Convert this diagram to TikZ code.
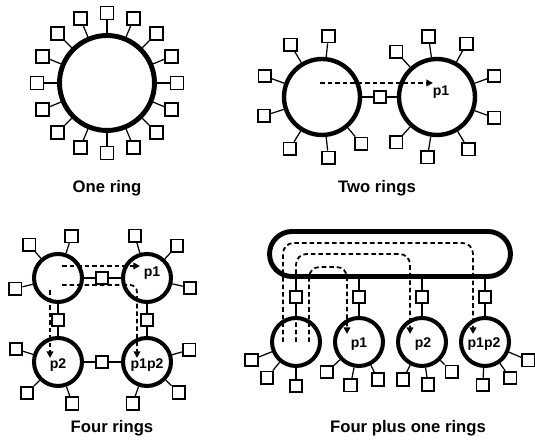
\documentclass[tikz,border=0pt]{standalone}
\usepackage{fontspec}
\setmainfont{Liberation Sans}
\usetikzlibrary{arrows.meta,calc}

\begin{document}
\begin{tikzpicture}[x=0.02cm,y=0.02cm,
  ring/.style={circle,draw,inner sep=0pt},
  term/.style={draw,fill=white,line width=1pt,minimum size=0.25cm,inner sep=0pt},
  tap/.style={line width=0.7pt},
  flow/.style={line width=1pt,dash pattern=on 2.6pt off 1.7pt,-{Triangle[length=3.8pt,width=3.8pt]}},
  plab/.style={font=\bfseries\fontsize{8}{9}\selectfont,inner sep=0pt},
  title/.style={font=\bfseries\fontsize{9.5}{11}\selectfont,anchor=base,inner sep=0pt}]
\useasboundingbox (0,0) rectangle (535,448);

% one ring
\node[ring,line width=2.8pt,minimum size=1.9cm] (one) at (107,365) {};
\foreach \a [count=\i] in {0,22.5,...,337.5}{
  \node[term,minimum size=0.26cm] (one-\i) at ($(one)+(\a:70)$) {};
  \draw[tap] (one) -- (one-\i);
}
\node[title] (t1) at (107,255) {One ring};

% two rings
\node[ring,line width=2.5pt,minimum size=1.52cm] (left) at (322,351) {};
\node[ring,line width=2.5pt,minimum size=1.52cm] (right) at (437,351) {};
\node[term] (link) at (380,351) {};
\draw[tap] (left) -- (link) -- (right);
\foreach \a [count=\i] in {84,121,160,198,238,276,310}{
  \node[term] (left-\i) at ($(left)+(\a:61)$) {};
  \draw[tap] (left) -- (left-\i);
}
\foreach \a [count=\i] in {20,61,98,132,228,261,301,340}{
  \node[term] (right-\i) at ($(right)+(\a:61)$) {};
  \draw[tap] (right) -- (right-\i);
}
\coordinate (a0) at (320,365);
\coordinate (a1) at (433,365);
\draw[flow] (a0) -- (a1);
\node[plab] (p1a) at (441,356) {p1};
\node[title] (t2) at (377,255) {Two rings};

% four rings
\foreach \n/\x/\y in {tl/58/170,tr/147/170,bl/58/86,br/147/86}
  \node[ring,line width=2.3pt,minimum size=0.96cm] (\n) at (\x,\y) {};
\node[term] (lt) at (102,170) {};
\node[term] (lb) at (102,86) {};
\node[term] (ll) at (58,128) {};
\node[term] (lr) at (147,128) {};
\draw[tap] (tl) -- (lt) -- (tr);
\draw[tap] (bl) -- (lb) -- (br);
\draw[tap] (tl) -- (ll) -- (bl);
\draw[tap] (tr) -- (lr) -- (br);
\foreach \r/\a [count=\i] in {tl/72,tl/131,tl/194,tr/47,tr/106,tr/347,
                              bl/163,bl/225,bl/289,br/16,br/251,br/316}{
  \node[term] (q\i) at ($(\r)+(\a:44)$) {};
  \draw[tap] (\r) -- (q\i);
}
\coordinate (f0) at (62,182);
\coordinate (f1) at (140,182);
\coordinate (g0) at (62,163);
\coordinate (g1) at (137,90);
\coordinate (h0) at (50,158);
\coordinate (h1) at (50,90);
\draw[flow] (f0) -- (f1);
\draw[flow,rounded corners=4pt] (g0) -| (g1);
\draw[flow] (h0) -- (h1);
\node[plab] (p1b) at (152,175) {p1};
\node[plab] (p2b) at (58,83) {p2};
\node[plab] (p12b) at (147,83) {p1p2};
\node[title] (t3) at (112,15) {Four rings};

% four plus one rings
\node[draw,line width=2.8pt,rounded corners=0.45cm,minimum width=4.82cm,
      minimum height=0.9cm,inner sep=0pt] (bus) at (390,194) {};
\foreach \x [count=\i] in {296,359,422,485}
  \node[ring,line width=2.3pt,minimum size=0.96cm] (s\i) at (\x,106) {};
\coordinate (o0) at (283,106);
\coordinate (o1) at (473,114);
\coordinate (m0) at (296,106);
\coordinate (m1) at (410,114);
\coordinate (i0) at (309,106);
\coordinate (i1) at (347,114);
\draw[flow,rounded corners=6pt] (o0) |- ++(190,99) -- (o1);
\draw[flow,rounded corners=6pt] (m0) |- ++(114,88) -- (m1);
\draw[flow,rounded corners=6pt] (i0) |- ++(38,75) -- (i1);
\foreach \x [count=\i] in {296,359,422,485}{
  \node[term] (b\i) at (\x,151) {};
  \draw[tap] (bus.south -| b\i) -- (b\i) -- (s\i);
}
\foreach \r/\a/\d [count=\i] in {s1/202/48,s1/231/46,s1/270/44,s2/223/44,s2/259/44,s2/297/42,
                                 s3/243/42,s3/278/43,s3/315/42,s4/267/43,s4/305/44,s4/337/47}{
  \node[term] (u\i) at ($(\r)+(\a:\d)$) {};
  \draw[tap] (\r) -- (u\i);
}
\node[plab] (p1c) at (359,104) {p1};
\node[plab] (p2c) at (423,104) {p2};
\node[plab] (p12c) at (484,104) {p1p2};
\node[title] (t4) at (408,15) {Four plus one rings};
\end{tikzpicture}
\end{document}
